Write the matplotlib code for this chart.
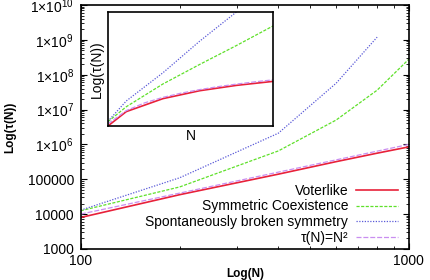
import matplotlib
matplotlib.use('Agg')
import matplotlib.pyplot as plt
from matplotlib.ticker import FixedLocator, FuncFormatter, NullLocator, LogLocator, NullFormatter

plt.rcParams['font.family'] = ['Liberation Sans', 'DejaVu Sans']
plt.rcParams['mathtext.fontset'] = 'custom'
plt.rcParams['mathtext.rm'] = 'Liberation Sans'
plt.rcParams['mathtext.it'] = 'Liberation Sans:italic'
plt.rcParams['mathtext.bf'] = 'Liberation Sans:bold'

# data
N = [100, 200, 400, 600, 800, 1000]
voterlike = [8000, 36000, 140000, 320000, 560000, 850000]
symmetric = [12500, 60000, 650000, 5.0e6, 3.6e7, 2.8e8]
N_spont = [100, 200, 400, 600, 800]
spontaneous = [13000, 110000, 2.1e6, 5.7e7, 1.2e9]
N_sq = [100, 200, 300, 400, 500, 600, 700, 800, 900, 1000]
n_squared = [n ** 2 for n in N_sq]

labels = ['Voterlike', 'Symmetric Coexistence',
          'Spontaneously broken symmetry', 'τ(N)=N²']
colors = ['#e8213a', '#5fe02a', '#5a5ad8', '#c98ef0']
styles = ['-', (0, (2.5, 1.2)), (0, (1, 1.2)), (0, (4, 1.5))]
widths = [1.2, 0.9, 0.9, 0.9]
y_ticks = [1e3, 1e4, 1e5, 1e6, 1e7, 1e8, 1e9, 1e10]


def ylab(v, pos):
    e = int(round(__import__('math').log10(v)))
    if e <= 5:
        return str(int(v))
    return '1×10$^{%d}$' % e


fig = plt.figure(figsize=(4.3, 2.8), dpi=100)
ax = fig.add_axes([0.188, 0.111, 0.763, 0.871])
series = [(N, voterlike), (N, symmetric), (N_spont, spontaneous), (N_sq, n_squared)]
for (xs, ys), lab, c, ls, lw in zip(series, labels, colors, styles, widths):
    ax.plot(xs, ys, color=c, ls=ls, lw=lw, label=lab)
ax.set_xscale('log')
ax.set_yscale('log')
ax.set_xlim(100, 1000)
ax.set_ylim(1e3, 1e10)
ax.xaxis.set_major_locator(FixedLocator([100, 1000]))
ax.xaxis.set_major_formatter(FuncFormatter(lambda v, p: str(int(v))))
ax.xaxis.set_minor_locator(LogLocator(base=10, subs=range(2, 10)))
ax.xaxis.set_minor_formatter(NullFormatter())
ax.yaxis.set_major_locator(FixedLocator(y_ticks))
ax.yaxis.set_major_formatter(FuncFormatter(ylab))
ax.yaxis.set_minor_locator(LogLocator(base=10, subs=range(2, 10)))
ax.yaxis.set_minor_formatter(NullFormatter())
ax.tick_params(which='both', direction='in', top=True, right=True, labelsize=10)
ax.tick_params(which='major', length=4.5, width=0.8, pad=5)
ax.tick_params(which='minor', length=2.2, width=0.6)
ax.tick_params(axis='x', pad=4)
for s in ax.spines.values():
    s.set_linewidth(1.2)
ax.set_xlabel('Log(N)', fontsize=8.5, fontweight='bold', labelpad=0)
ax.set_ylabel('Log(τ(N))', fontsize=8.5, fontweight='bold', labelpad=8)

leg = ax.legend(loc='lower right', bbox_to_anchor=(0.984, -0.006), frameon=False,
                markerfirst=False, fontsize=10, handlelength=3.0, handletextpad=0.6,
                labelspacing=0.12, borderaxespad=0)

# inset
ins = fig.add_axes([0.251, 0.55, 0.384, 0.407])
for (xs, ys), c, ls, lw in zip(series, colors, styles, widths):
    ins.plot(xs, ys, color=c, ls=ls, lw=lw)
ins.set_yscale('log')
ins.set_xlim(100, 1000)
ins.set_ylim(voterlike[0], spontaneous[-1])
ins.xaxis.set_major_locator(NullLocator())
ins.yaxis.set_major_locator(NullLocator())
ins.yaxis.set_minor_locator(NullLocator())
for s in ins.spines.values():
    s.set_linewidth(1.2)
ins.set_xlabel('N', fontsize=10, labelpad=2)
ins.set_ylabel('Log(τ(N))', fontsize=10, labelpad=3)

fig.savefig('out.png', dpi=100)
